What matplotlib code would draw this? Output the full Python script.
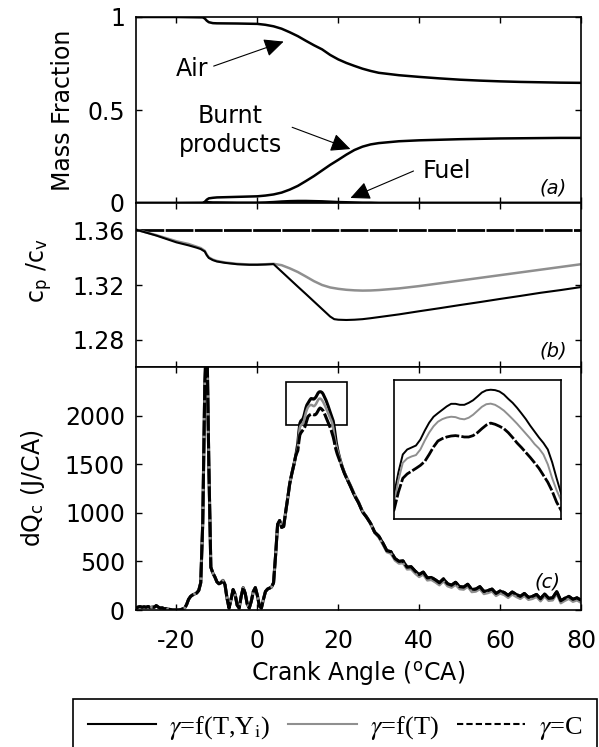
import numpy as np
import matplotlib
matplotlib.use('Agg')
from matplotlib import pyplot as plt
from matplotlib.lines import Line2D
from matplotlib.patches import Rectangle

plt.rcParams['font.family'] = ['DejaVu Sans']
plt.rcParams['font.size'] = 17
plt.rcParams['mathtext.fontset'] = 'stix'
plt.rcParams['axes.unicode_minus'] = False

# ---- (a) mass fractions ----
mf_x = [-30, -20, -13.5, -13, -12.5, -12, -11, -10, -5, 0, 2, 4, 6, 8, 10, 12, 14,
        16, 18, 20, 22, 24, 26, 28, 30, 35, 40, 45, 50, 55, 60, 65, 70, 75, 80]
air = [1.0, 1.0, 0.998, 0.992, 0.980, 0.972, 0.967, 0.966, 0.965, 0.963, 0.958,
       0.950, 0.937, 0.918, 0.897, 0.872, 0.848, 0.826, 0.796, 0.772, 0.753, 0.737,
       0.722, 0.710, 0.700, 0.687, 0.678, 0.670, 0.663, 0.658, 0.654, 0.651, 0.649,
       0.647, 0.646]
burnt = [0, 0, 0.001, 0.006, 0.018, 0.025, 0.028, 0.030, 0.033, 0.036, 0.040, 0.046,
         0.056, 0.072, 0.092, 0.118, 0.145, 0.175, 0.205, 0.232, 0.260, 0.285, 0.303,
         0.315, 0.322, 0.332, 0.337, 0.340, 0.343, 0.345, 0.347, 0.348, 0.349, 0.350,
         0.350]
fuel = [0, 0, 0, 0.004, 0.006, 0.004, 0.003, 0.003, 0.002, 0.002, 0.003, 0.005, 0.008,
        0.010, 0.011, 0.011, 0.010, 0.009, 0.007, 0.005, 0.004, 0.003, 0.002, 0.002,
        0.001, 0.001, 0.001, 0.001, 0.001, 0.001, 0.001, 0.001, 0.001, 0.001, 0.001]

# ---- (b) cp/cv ----
g_x = [-30, -25, -20, -17, -15, -14, -13, -12.5, -12, -11, -10, -8, -5, -2, 0, 2, 4,
       6, 8, 10, 12, 14, 16, 18, 19, 20, 22, 24, 26, 28, 30, 35, 40, 45, 50, 55, 60,
       65, 70, 75, 80]
g_TY = [1.3605, 1.3562, 1.3512, 1.3490, 1.3473, 1.3463, 1.3445, 1.3418, 1.3398,
        1.3382, 1.3372, 1.3362, 1.3352, 1.3348, 1.3348, 1.3350, 1.3353, 1.3298,
        1.3243, 1.3188, 1.3134, 1.3079, 1.3024, 1.2969, 1.2950, 1.2946, 1.2944,
        1.2946, 1.2950, 1.2957, 1.2965, 1.2985, 1.3008, 1.3030, 1.3053, 1.3075,
        1.3098, 1.3120, 1.3143, 1.3163, 1.3185]
g_T = [1.3605, 1.3565, 1.3520, 1.3500, 1.3480, 1.3470, 1.3450, 1.3422, 1.3402,
       1.3386, 1.3376, 1.3365, 1.3355, 1.3350, 1.3350, 1.3352, 1.3355, 1.3345,
       1.3322, 1.3295, 1.3262, 1.3228, 1.3200, 1.3182, 1.3177, 1.3172, 1.3165,
       1.3161, 1.3159, 1.3160, 1.3163, 1.3175, 1.3192, 1.3212, 1.3232, 1.3252,
       1.3272, 1.3292, 1.3312, 1.3332, 1.3352]
g_C_x = [-30, 80]
g_C = [1.36, 1.36]

# ---- (c) heat release rate ----
# shared part, -30 .. 9.5 (step 0.5)
dq_x1 = np.arange(-30, 10, 0.5)
dq_pre = [17, 30, 35, 28, 33, 28, 36, 25, 30, 28,
          45, 30, 20, 22, 12, 15, 8, 5, 0, 0,
          0, 0, 3, 10, 18, 55, 110, 140, 155, 165,
          175, 200, 280, 900, 2300, 2900, 1500, 440, 380, 340,
          290, 270, 280, 305, 260, 120, 20, 110, 210, 160,
          50, 20, 140, 230, 170, 60, 20, 90, 190, 230,
          150, 40, 20, 110, 190, 215, 225, 235, 280, 560,
          880, 920, 850, 860, 1010, 1150, 1300, 1400, 1490, 1590]
# peak part, 10 .. 22 (step 0.25)
dq_x2 = np.arange(10, 22.01, 0.25)
dq_TY_pk = [1716, 1830, 1920, 1945, 1955, 1965, 1995, 2040, 2080, 2110, 2128, 2145,
            2162, 2175, 2175, 2170, 2170, 2180, 2193, 2212, 2232, 2243, 2246, 2244,
            2237, 2222, 2200, 2180, 2155, 2127, 2098, 2065, 2035, 2005, 1978, 1945,
            1880, 1800, 1725, 1670, 1620, 1578, 1540, 1503, 1470, 1440, 1412, 1388,
            1365]
dq_T_pk = [1674, 1790, 1878, 1900, 1910, 1917, 1945, 1990, 2030, 2062, 2085, 2098,
           2106, 2110, 2108, 2100, 2097, 2105, 2120, 2140, 2160, 2173, 2176, 2170,
           2157, 2141, 2120, 2098, 2075, 2050, 2025, 2000, 1972, 1950, 1920, 1870,
           1800, 1740, 1690, 1650, 1612, 1576, 1542, 1508, 1477, 1448, 1420, 1395,
           1372]
dq_C_pk = [1640, 1730, 1800, 1822, 1836, 1850, 1865, 1885, 1920, 1958, 1988, 2000,
           2008, 2013, 2015, 2012, 2008, 2008, 2015, 2030, 2050, 2068, 2078, 2072,
           2062, 2050, 2030, 2005, 1978, 1955, 1930, 1905, 1878, 1850, 1815, 1780,
           1735, 1680, 1640, 1605, 1575, 1548, 1520, 1490, 1462, 1435, 1408, 1385,
           1362]
# tail, 23 .. 80 (step 1)
dq_x3 = np.arange(23, 81, 1)
dq_tail = [1275, 1180, 1105, 1010, 955, 890, 800, 760, 690, 610,
           600, 530, 500, 505, 440, 445, 400, 365, 390, 330,
           335, 310, 280, 320, 270, 255, 285, 240, 235, 265,
           210, 215, 240, 190, 200, 215, 170, 195, 180, 150,
           185, 160, 140, 170, 130, 140, 160, 115, 165, 120,
           125, 190, 95, 120, 140, 110, 125, 100]
dq_T_tail = [1290, 1195, 1115, 1020, 960, 885, 795, 745, 675, 595,
             580, 510, 478, 482, 418, 420, 375, 340, 365, 305,
             310, 285, 255, 295, 245, 230, 260, 215, 210, 240,
             185, 190, 215, 165, 175, 190, 145, 170, 155, 125,
             160, 135, 115, 145, 105, 115, 135, 90, 140, 95,
             100, 165, 70, 95, 115, 85, 100, 75]

dq_x = np.concatenate([dq_x1, dq_x2, dq_x3])
dq_TY = np.concatenate([dq_pre, dq_TY_pk, dq_tail])
dq_T = np.concatenate([dq_pre, dq_T_pk, dq_T_tail])
dq_C = np.concatenate([dq_pre, dq_C_pk, dq_tail])

grey = '#8f8f8f'
dash = (0, (5, 0.8))

fig = plt.figure(figsize=(5.99, 7.47), dpi=100)
L, W = 136 / 599, 445 / 599
ax1 = fig.add_axes([L, 1 - 203 / 747, W, 186 / 747])
ax2 = fig.add_axes([L, 1 - 367 / 747, W, 164 / 747])
ax3 = fig.add_axes([L, 1 - 610 / 747, W, 243 / 747])

for ax in (ax1, ax2, ax3):
    ax.set_xlim(-30, 80)
    ax.set_xticks([-20, 0, 20, 40, 60, 80])
    ax.tick_params(direction='in', top=True, right=True, length=4, width=1,
                   pad=8, labelsize=17)
    ax.tick_params(axis='x', pad=14)
    for s in ax.spines.values():
        s.set_linewidth(1.2)
ax1.tick_params(labelbottom=False)
ax2.tick_params(labelbottom=False)

# (a)
ax1.plot(mf_x, air, color='k', lw=1.8)
ax1.plot(mf_x, burnt, color='k', lw=1.8)
ax1.plot(mf_x, fuel, color='k', lw=1.8)
ax1.set_ylim(0, 1)
ax1.set_yticks([0, 0.5, 1])
ax1.set_yticklabels(['0', '0.5', '1'])
ax1.set_ylabel('Mass Fraction')
ax1.yaxis.set_label_coords(-0.137, 0.5)
arw = dict(arrowstyle='-|>,head_length=0.6,head_width=0.28', color='k', lw=0.8,
           mutation_scale=20, shrinkA=0, shrinkB=0)
ax1.text(-16.1, 0.723, 'Air', ha='center', va='center')
ax1.annotate('', xy=(6.5, 0.868), xytext=(-10.8, 0.736), arrowprops=arw)
ax1.text(-6.7, 0.39, 'Burnt\nproducts', ha='center', va='center', linespacing=1.25)
ax1.annotate('', xy=(23.0, 0.29), xytext=(8.6, 0.407), arrowprops=arw)
ax1.text(46.8, 0.172, 'Fuel', ha='center', va='center')
ax1.annotate('', xy=(23.0, 0.027), xytext=(38.6, 0.172), arrowprops=arw)
ax1.text(0.969, 0.08, '(a)', transform=ax1.transAxes, ha='right', va='center',
         style='italic', fontsize=14)

# (b)
ax2.plot(g_C_x, g_C, color='k', lw=2, ls=(0, (10, 0.5)))
ax2.plot(g_x, g_T, color=grey, lw=1.8)
ax2.plot(g_x, g_TY, color='k', lw=1.5)
ax2.set_ylim(1.26, 1.38)
ax2.set_yticks([1.28, 1.32, 1.36])
ax2.set_yticklabels(['1.28', '1.32', '1.36'])
ax2.set_ylabel(r'c$_\mathregular{p}$ /c$_\mathregular{v}$')
ax2.yaxis.set_label_coords(-0.185, 0.59)
ax2.text(0.969, 0.10, '(b)', transform=ax2.transAxes, ha='right', va='center',
         style='italic', fontsize=14)

# (c)
ax3.plot(dq_x, dq_TY, color='k', lw=2.2)
ax3.plot(dq_x, dq_T, color=grey, lw=1.8)
ax3.plot(dq_x, dq_C, color='k', lw=2.2, ls=dash)
ax3.set_ylim(0, 2500)
ax3.set_yticks([0, 500, 1000, 1500, 2000])
ax3.set_ylabel(r'dQ$_\mathregular{c}$ (J/CA)')
ax3.yaxis.set_label_coords(-0.2, 0.5)
ax3.set_xlabel(r'Crank Angle ($^\mathregular{o}$CA)', labelpad=4)
ax3.add_patch(Rectangle((7.2, 1900), 15.0, 450, fill=False, color='k', lw=1.2))
ax3.text(0.955, 0.115, '(c)', transform=ax3.transAxes, ha='right', va='center',
         style='italic', fontsize=14)

# inset
axi = fig.add_axes([394 / 599, 1 - 519 / 747, 167 / 599, 139 / 747])
axi.plot(dq_x, dq_TY, color='k', lw=1.4)
axi.plot(dq_x, dq_T, color=grey, lw=1.4)
axi.plot(dq_x, dq_C, color='k', lw=2, ls=dash)
axi.set_xlim(10, 19.5)
axi.set_ylim(1595, 2295)
axi.set_xticks([])
axi.set_yticks([])
for s in axi.spines.values():
    s.set_linewidth(1.2)

# legend
handles = [Line2D([], [], color='k', lw=1.5),
           Line2D([], [], color=grey, lw=1.5),
           Line2D([], [], color='k', lw=1.5, ls=(0, (3, 1.5)))]
labels = [r'$\gamma$=f(T,Y$_\mathrm{i}$)', r'$\gamma$=f(T)', r'$\gamma$=C']
leg = fig.legend(handles, labels, loc='upper left',
                 bbox_to_anchor=(73 / 599, 1 - 699 / 747, 524 / 599, 0.0),
                 mode='expand', ncol=3, prop={'family': 'Liberation Serif', 'size': 19},
                 frameon=True, fancybox=False, edgecolor='k', framealpha=1,
                 handlelength=2.6, handletextpad=0.5, borderpad=0.55, borderaxespad=0)
leg.get_frame().set_linewidth(1.2)

fig.savefig('out.png', dpi=100)
